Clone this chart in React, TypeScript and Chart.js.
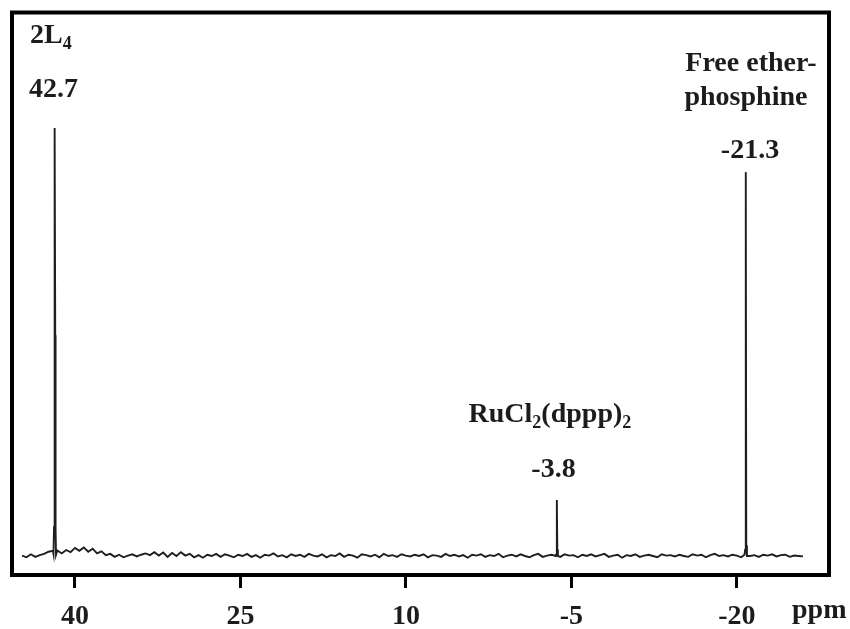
import React, { useEffect, useRef } from "react";
import { Chart, registerables } from "chart.js";

Chart.register(...registerables);

// x axis (ppm, reversed)
const tickValues = [40, 25, 10, -5, -20];
const axisMinPpm = -28.36;
const axisMaxPpm = 45.71;
const intensityMin = -4.44;
const intensityMax = 127;

// baseline noise: sampled every 0.4 ppm from 44.8 ppm downward
const noiseStartPpm = 44.8;
const noiseStepPpm = 0.4;
const noiseValues = [
  0.1, -0.3, 0.4, -0.2, 0.2, 0.5, 1.0, 1.2, 1.3, 0.6,
  1.4, 0.9, 1.9, 1.2, 2.0, 1.0, 1.7, 0.6, 1.1, 0.2,
  0.5, -0.2, 0.3, -0.3, 0.1, 0.4, -0.1, 0.3, 0.6, 0.2,
  0.9, 0.1, 0.8, -0.2, 0.7, 0.0, 0.9, 0.1, 0.5, -0.3,
  0.2, -0.4, 0.3, 0.0, 0.5, -0.2, 0.4, 0.1, -0.3, 0.3,
  0.0, 0.5, -0.2, 0.2, -0.4, 0.3, 0.1, 0.6, -0.1, 0.2,
  -0.3, 0.4, 0.0, 0.3, -0.2, 0.5, 0.1, -0.1, 0.4, -0.3,
  0.2, 0.0, 0.6, -0.2, 0.3, 0.1, -0.4, 0.4, 0.2, -0.1,
  0.3, -0.3, 0.5, 0.0, 0.2, -0.2, 0.4, 0.1, -0.1, 0.3,
  0.0, 0.4, -0.3, 0.2, 0.1, -0.2, 0.5, 0.0, 0.3, -0.1,
  0.2, -0.4, 0.3, 0.1, 0.4, -0.2, 0.2, 0.0, 0.5, -0.3,
  0.1, 0.3, -0.1, 0.4, 0.0, -0.3, 0.2, 0.5, -0.2, 0.1,
  0.3, 0.0, -0.2, 0.4, 0.1, 0.2, -0.3, 0.3, 0.0, 0.4,
  -0.1, 0.2, 0.5, -0.2, 0.1, 0.3, -0.4, 0.2, 0.0, 0.4,
  -0.2, 0.1, 0.3, 0.0, -0.3, 0.4, 0.1, 0.2, -0.1, 0.3,
  0.0, -0.2, 0.4, 0.1, 0.3, -0.3, 0.2, 0.5, 0.0, 0.2,
  -0.1, 0.3, 0.1, -0.3, 0.4, 0.0, 0.2, -0.2, 0.3, 0.1,
  0.4, -0.1, 0.2, 0.3, -0.2, 0.1, 0.0, -0.1,
];

// peaks
const peak2L4Ppm = [41.95, 41.9, 41.86, 41.83, 41.79, 41.76, 41.72];
const peak2L4Int = [0.5, 6.8, 6.8, 100, 51.6, 6.5, 0.3];
const peakRuPpm = [-3.62, -3.67, -3.7, -3.73, -3.78];
const peakRuInt = [0.3, 2.0, 13.1, 1.5, 0.0];
const peakFreePpm = [-20.7, -20.76, -20.8, -20.83, -20.86, -20.92];
const peakFreeInt = [0.3, 1.5, 3.0, 89.7, 2.5, 0.0];

// annotation texts: parts [text, isSubscript]
const annotations = [
  { parts: [["2L", false], ["4", true]], ppm: 42.19, intensity: 119.9 },
  { parts: [["42.7", false]], ppm: 41.95, intensity: 107.2 },
  { parts: [["Free ether-", false]], ppm: -21.29, intensity: 113.3 },
  { parts: [["phosphine", false]], ppm: -20.83, intensity: 105.4 },
  { parts: [["-21.3", false]], ppm: -21.2, intensity: 93.0 },
  { parts: [["RuCl", false], ["2", true], ["(dppp)", false], ["2", true]], ppm: -3.06, intensity: 31.3 },
  { parts: [["-3.8", false]], ppm: -3.38, intensity: 18.5 },
];
const axisUnit = "ppm";

const FONT_FAMILY = "'Liberation Serif', 'Times New Roman', serif";

function buildSpectrum() {
  const groups = [
    [peak2L4Ppm, peak2L4Int],
    [peakRuPpm, peakRuInt],
    [peakFreePpm, peakFreeInt],
  ];
  const pts: { x: number; y: number }[] = [];
  noiseValues.forEach((v, i) => {
    const ppm = +(noiseStartPpm - i * noiseStepPpm).toFixed(3);
    const inside = groups.some(([p]) => ppm <= Math.max(...p) && ppm >= Math.min(...p));
    if (!inside) pts.push({ x: ppm, y: v });
  });
  groups.forEach(([p, inten]) => {
    p.forEach((ppm, i) => pts.push({ x: ppm, y: inten[i] }));
  });
  pts.sort((a, b) => b.x - a.x);
  return pts;
}

const framePlugin = {
  id: "frameAndText",
  afterDraw(chart: any) {
    const { ctx, chartArea: a, scales } = chart;
    const xs = scales.x;
    const ys = scales.y;
    ctx.save();
    ctx.strokeStyle = "#000";
    ctx.lineWidth = 4;
    ctx.strokeRect(a.left, a.top, a.right - a.left, a.bottom - a.top);

    ctx.fillStyle = "#1c1c1c";
    ctx.textBaseline = "alphabetic";
    ctx.textAlign = "left";
    const mainFont = `bold 28px ${FONT_FAMILY}`;
    const subFont = `bold 18px ${FONT_FAMILY}`;
    for (const an of annotations) {
      let total = 0;
      for (const [t, sub] of an.parts as [string, boolean][]) {
        ctx.font = sub ? subFont : mainFont;
        total += ctx.measureText(t).width;
      }
      let cx = xs.getPixelForValue(an.ppm) - total / 2;
      const by = ys.getPixelForValue(an.intensity);
      for (const [t, sub] of an.parts as [string, boolean][]) {
        ctx.font = sub ? subFont : mainFont;
        ctx.fillText(t, cx, sub ? by + 6 : by);
        cx += ctx.measureText(t).width;
      }
    }
    ctx.font = mainFont;
    ctx.fillText(axisUnit, a.right - 37, a.bottom + 43);
    ctx.restore();
  },
};

export default function App() {
  const ref = useRef<HTMLCanvasElement | null>(null);
  useEffect(() => {
    if (!ref.current) return;
    const chart = new Chart(ref.current, {
      type: "scatter",
      data: {
        datasets: [
          {
            data: buildSpectrum(),
            showLine: true,
            pointRadius: 0,
            borderColor: "#1e1e1e",
            borderWidth: 1.9,
            tension: 0,
          },
        ],
      },
      options: {
        animation: false,
        responsive: true,
        maintainAspectRatio: false,
        layout: { padding: { left: 12, top: 12.5, right: 21, bottom: 0 } },
        plugins: { legend: { display: false }, tooltip: { enabled: false } },
        scales: {
          x: {
            type: "linear",
            reverse: true,
            min: axisMinPpm,
            max: axisMaxPpm,
            afterBuildTicks: (s: any) => {
              s.ticks = tickValues.map((v) => ({ value: v }));
            },
            afterFit: (s: any) => {
              s.height = 54;
            },
            border: { display: false },
            grid: {
              display: true,
              drawOnChartArea: false,
              drawTicks: true,
              tickLength: 13,
              tickWidth: 3,
              tickColor: "#000",
            },
            ticks: {
              autoSkip: false,
              maxRotation: 0,
              padding: 12,
              color: "#1c1c1c",
              font: { family: FONT_FAMILY, size: 28, weight: "bold" },
              callback: (v: any) => String(v),
            },
          },
          y: { display: false, min: intensityMin, max: intensityMax },
        },
      },
      plugins: [framePlugin],
    } as any);
    return () => chart.destroy();
  }, []);
  return (
    <div style={{ position: "absolute", left: 0, top: 0, width: 850, height: 629, background: "#fff" }}>
      <canvas ref={ref} />
    </div>
  );
}
